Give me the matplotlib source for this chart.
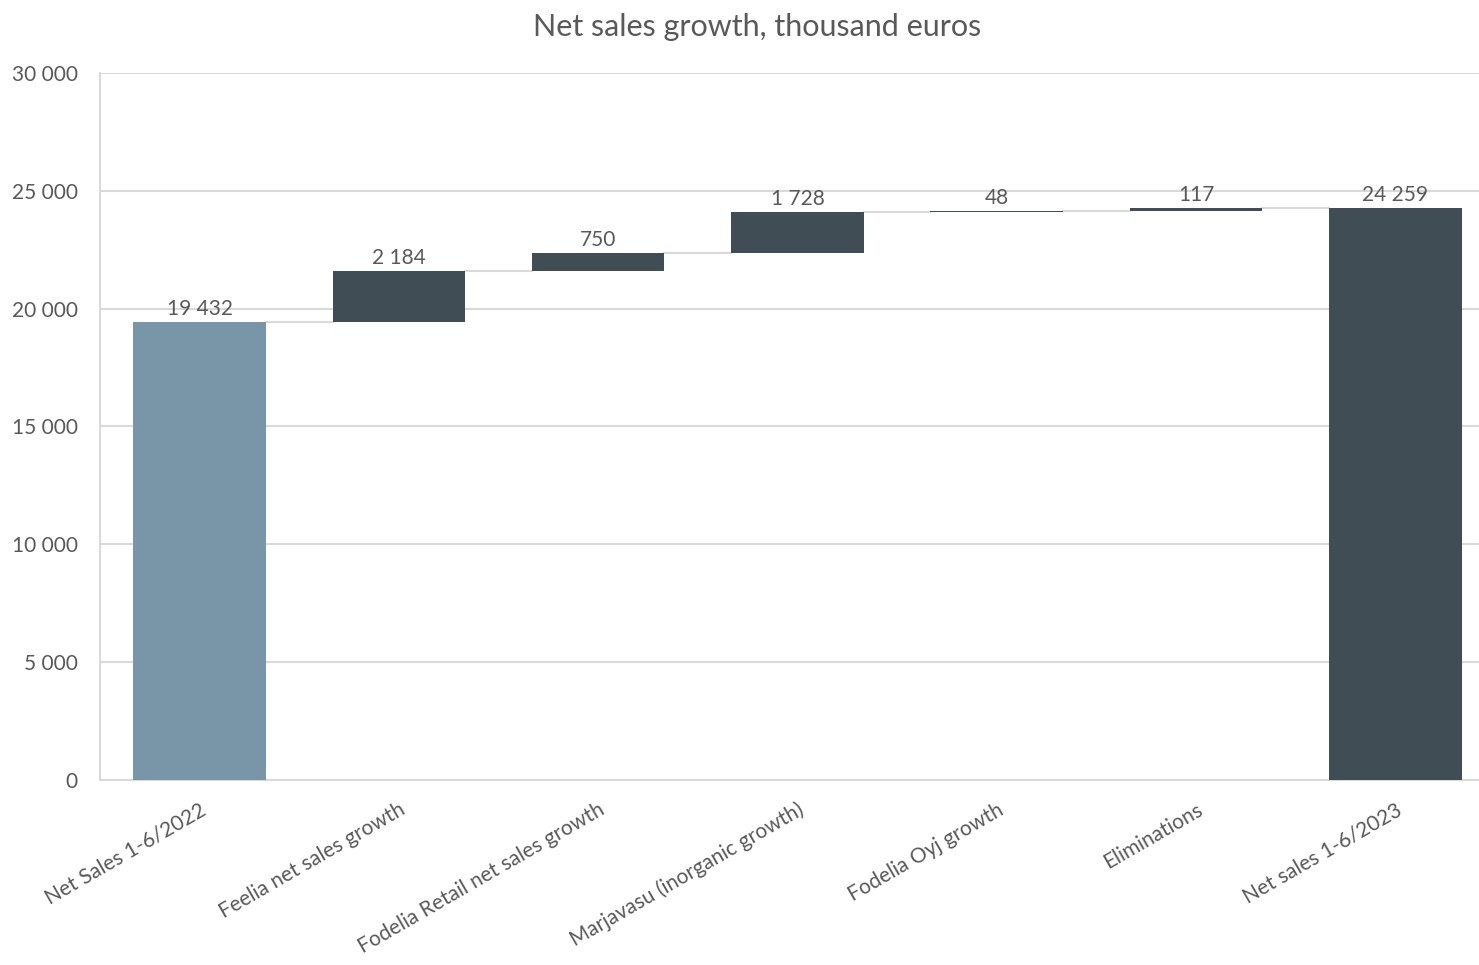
import numpy as np
import matplotlib.pyplot as plt

plt.rcParams['font.family'] = ['Lato', 'DejaVu Sans']

categories = ["Net Sales 1-6/2022", "Feelia net sales growth", "Fodelia Retail net sales growth",
              "Marjavasu (inorganic growth)", "Fodelia Oyj growth", "Eliminations", "Net sales 1-6/2023"]
changes = [19432, 2184, 750, 1728, 48, 117]
total_end = 24259

start_col = "#7896a8"
dark_col = "#414d54"
txt_col = "#595959"
grid_col = "#d9d9d9"

fig = plt.figure(figsize=(14.79, 9.65), dpi=100)
# axes runs slightly past the right edge, like the original export
ax = fig.add_axes([0.0676, 0.1917, 0.9432, 0.7327])

cum = np.cumsum(changes)
bottoms = [0] + list(cum[:-1]) + [0]
heights = list(changes) + [total_end]
values = list(changes) + [total_end]
cols = [start_col] + [dark_col] * 6

x = np.arange(len(categories))
w = 0.665
ax.bar(x, heights, w, bottom=bottoms, color=cols, zorder=3)

tops = [b + h for b, h in zip(bottoms, heights)]
for i in range(len(categories) - 1):
    ax.plot([x[i] + w / 2, x[i + 1] - w / 2], [tops[i], tops[i]], color=grid_col, lw=1.5, zorder=2)

for xi, t, v in zip(x, tops, values):
    ax.text(xi, t + 120, f"{v:,}".replace(",", " "), ha='center', va='bottom',
            fontsize=15, color=txt_col)

ax.set_xlim(-0.5, 6.5)
ax.set_ylim(0, 30000)
yt = np.arange(0, 30001, 5000)
ax.set_yticks(yt)
ax.set_yticklabels([f"{v:,}".replace(",", " ") for v in yt], fontsize=15, color=txt_col)
ax.yaxis.grid(True, color=grid_col, lw=1.5, zorder=0)
ax.set_axisbelow(True)
ax.set_xticks(x)
ax.set_xticklabels(categories, rotation=30, ha='right', va='top', rotation_mode='anchor',
                   fontsize=15, color=txt_col)
ax.tick_params(axis='both', length=0, pad=14)
ax.tick_params(axis='y', pad=16)
for s in ['top', 'right']:
    ax.spines[s].set_visible(False)
for s in ['left', 'bottom']:
    ax.spines[s].set_color(grid_col)
    ax.spines[s].set_linewidth(1.5)

fig.text(0.512, 0.972, "Net sales growth, thousand euros", fontsize=22, color=txt_col,
         ha='center', va='center')

fig.savefig("out.png", dpi=100)
